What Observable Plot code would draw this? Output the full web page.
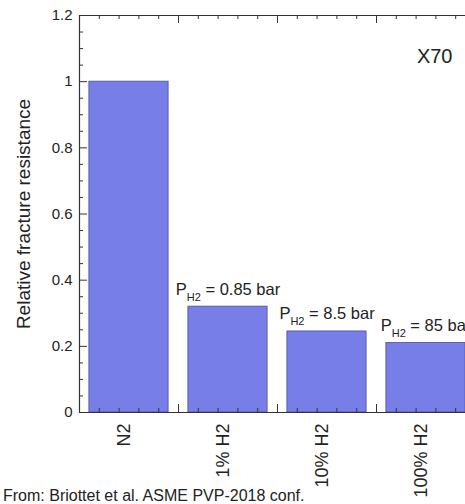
<!DOCTYPE html>
<html><head><meta charset="utf-8">
<script src="https://cdn.jsdelivr.net/npm/d3@7"></script>
<script src="https://cdn.jsdelivr.net/npm/@observablehq/plot@0.6"></script>
<style>
body{margin:0;background:#fff;font-family:"Liberation Sans",Arial,Helvetica,sans-serif;}
#wrap{position:relative;width:465px;height:504px;overflow:hidden;background:#fff;}
#caption{position:absolute;left:3px;top:488px;font-size:16px;color:#222;white-space:nowrap;line-height:1;}
</style></head><body>
<div id="wrap"><div id="chart"></div><div id="caption">From: Briottet et al. ASME PVP-2018 conf.</div></div>
<script>
// ---- data ----
const categories = ["N2", "1% H2", "10% H2", "100% H2"];
const values = [1.0, 0.32, 0.245, 0.21];
const pressureLabels = [null, "0.85 bar", "8.5 bar", "85 bar"];
const yTickValues = [0, 0.2, 0.4, 0.6, 0.8, 1, 1.2];
const materialLabel = "X70";
const yAxisLabel = "Relative fracture resistance";

const data = categories.map((c, i) => ({cat: c, i, value: values[i], p: pressureLabels[i]}));

// ---- layout ----
const W = 465, H = 504, mL = 79, mR = 0, mT = 15, mB = 92;
const frameW = W - mL - mR, frameH = H - mT - mB;
const yMinor = d3.range(0, 25).map(k => k * 0.05).filter(v => !yTickValues.some(t => Math.abs(t - v) < 1e-9));
const xMajor = [1, 2, 3, 4];
const xMinor = d3.range(0, 20).map(k => k * 0.2).filter(v => Math.abs(v - Math.round(v)) > 1e-9);
const ink = "#333";

const plot = Plot.plot({
  width: W, height: H,
  marginLeft: mL, marginRight: mR, marginTop: mT, marginBottom: mB,
  style: {fontFamily: '"Liberation Sans", Arial, Helvetica, sans-serif', color: "#222", background: "#fff"},
  x: {type: "linear", domain: [0, 4], range: [mL, 475]},
  y: {domain: [0, 1.2], range: [H - mB, mT]},
  marks: [
    Plot.rectY(data, {x1: d => d.i + 0.1, x2: d => d.i + 0.9, y1: 0, y2: "value", fill: "#777ee8", stroke: "#4a4f90", strokeWidth: 0.8}),
    // frame
    Plot.ruleY([0, 1.2], {stroke: ink, strokeWidth: 1.2}),
    Plot.ruleX([0], {stroke: ink, strokeWidth: 1.2}),
    // y ticks (inward)
    Plot.tickY(yTickValues, {y: d => d, stroke: ink, insetRight: frameW - 8}),
    Plot.tickY(yMinor, {y: d => d, stroke: ink, insetRight: frameW - 4}),
    // x ticks bottom (inward)
    Plot.tickX(xMajor, {x: d => d, stroke: ink, insetTop: frameH - 8}),
    Plot.tickX(xMinor, {x: d => d, stroke: ink, insetTop: frameH - 4}),
    // x ticks top (inward)
    Plot.tickX(xMajor, {x: d => d, stroke: ink, insetBottom: frameH - 8}),
    Plot.tickX(xMinor, {x: d => d, stroke: ink, insetBottom: frameH - 4}),
    // axes labels
    Plot.axisY({ticks: yTickValues, tickSize: 0, tickPadding: 7, fontSize: 15, tickFormat: d3.format("~g"), label: null}),
    Plot.axisX({ticks: [0.5, 1.5, 2.5, 3.5], tickFormat: d => categories[Math.floor(d)], tickRotate: -90, tickSize: 0, tickPadding: 11, fontSize: 18, label: null, dx: -5}),
    Plot.text([yAxisLabel], {text: d => d, frameAnchor: "left", textAnchor: "middle", rotate: -90, dx: -63, lineAnchor: "top", fontSize: 19}),
    Plot.text([materialLabel], {text: d => d, frameAnchor: "top-right", textAnchor: "end", dx: -13, dy: 33, fontSize: 20}),
    Plot.text(data.filter(d => d.p), {x: d => d.i + 0.5, y: "value", text: d => d.p, textAnchor: "middle", lineAnchor: "bottom", dy: -12, fontSize: 16.5})
  ]
});

// subscripted P_H2 labels
d3.select(plot).selectAll("text").each(function() {
  const t = d3.select(this);
  const rest = t.text();
  if (!pressureLabels.includes(rest)) return;
  t.selectAll("*").remove();
  t.text(null);
  t.append("tspan").text("P");
  t.append("tspan").attr("font-size", 11).attr("dy", 6).text("H2");
  t.append("tspan").attr("dy", -6).text(" = " + rest);
});

document.getElementById("chart").appendChild(plot);
</script>
</body></html>
